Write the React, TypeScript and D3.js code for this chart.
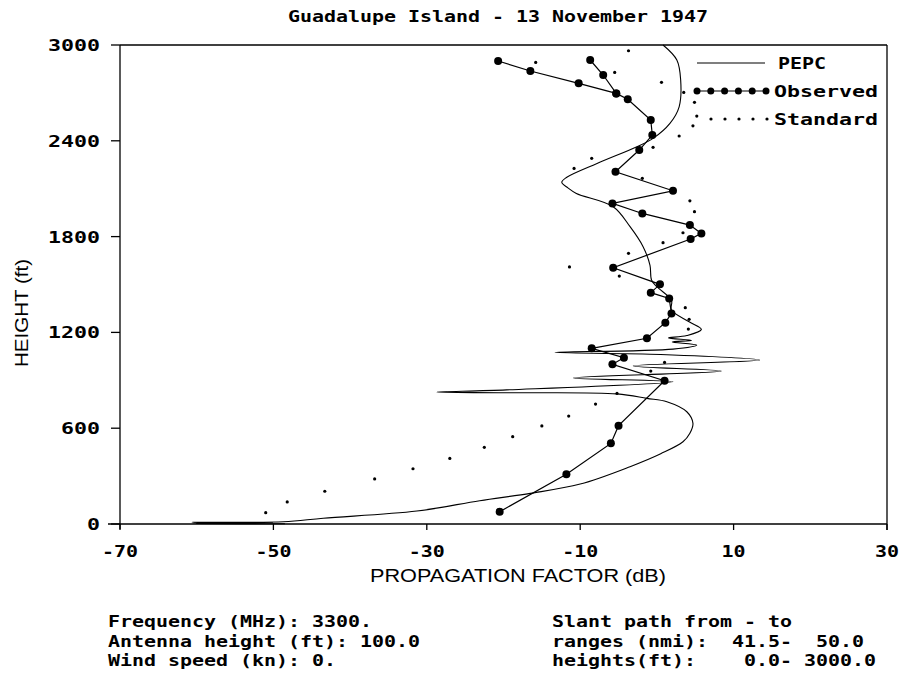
import React from "react";
import * as d3 from "d3";

const TITLE = "Guadalupe Island - 13 November 1947";
const X_TICKS = [-70, -50, -30, -10, 10, 30];
const Y_TICKS = [0, 600, 1200, 1800, 2400, 3000];

const pepcDb = [0.8, 2.6, 3.1, 2.9, 1.7, -0.5, -2.6, -7.8, -11.8, -12.4, -11.6, -10.5, -5.7, -3.5, -1.8, -0.9, -0.7, 0.0, 1.9, 1.9, 4.2, 5.8, 3.9, 1.5, 4.5, 2.0, 5.2, 2.1, -13.3, 0.5, 13.4, -3.1, 8.4, -10.9, 2.1, -19.6, -28.7, -20, -5.2, -1.3, 1.3, 3.9, 4.7, 4.3, 3.4, 0.5, -3.5, -10, -16.5, -23.1, -31.3, -43.5, -48.7, -60.6, -50, -60.5, -52, -60, -48.5];
const pepcHt = [3000, 2906, 2780, 2613, 2509, 2415, 2363, 2258, 2170, 2140, 2105, 2070, 1987, 1862, 1737, 1620, 1528, 1486, 1400, 1340, 1267, 1219, 1180, 1165, 1150, 1140, 1121, 1095, 1075, 1062, 1027, 990, 958, 915, 891, 840, 826, 822, 815, 787, 766, 703, 630, 568, 515, 440, 359, 250, 192, 146, 81, 36, 14, 11, 9, 7, 5, 3, 2];

const obsDb = [-20.5, -11.8, -6, -5, 1.0, -5.8, -4.3, -8.5, -1.3, 1.1, 1.9, 1.6, -0.8, 0.4, -5.7, 4.4, 5.8, 4.3, -1.9, -5.8, 2.1, -5.4, -2.3, -0.6, -0.8, -3.8, -5.3, -10.2, -16.5, -20.7];
const obsHt = [77, 311, 505, 616, 897, 1000, 1041, 1100, 1163, 1261, 1319, 1413, 1449, 1501, 1605, 1785, 1820, 1872, 1945, 2008, 2087, 2206, 2342, 2436, 2530, 2660, 2697, 2760, 2837, 2900];
const obsBranchDb = [-5.3, -7, -8.7];
const obsBranchHt = [2697, 2812, 2906];

const stdDb = [-51, -48.2, -43.3, -36.8, -31.8, -27, -22.5, -18.8, -15, -11.5, -8, -5.2, -0.8, 1.0, 4.1, 4.2, 3.7, -4.9, -11.4, -3.7, 0.8, 3.4, 4.9, 4.3, -1.9, -10.8, -8.5, -0.5, 2.9, 4.7, 5.2, 4.9, 3.5, 0.6, -5.5, -15.8, -3.7];
const stdHt = [71, 138, 205, 282, 346, 411, 480, 547, 614, 676, 751, 818, 958, 1012, 1221, 1282, 1355, 1553, 1610, 1695, 1762, 1824, 1956, 2024, 2165, 2227, 2290, 2359, 2430, 2494, 2555, 2641, 2703, 2766, 2828, 2891, 2964];

const LEGEND = ["PEPC", "Observed", "Standard"];
const INFO_LEFT = ["Frequency (MHz): 3300.", "Antenna height (ft): 100.0", "Wind speed (kn): 0."];
const INFO_RIGHT = ["Slant path from - to", "ranges (nmi):  41.5-  50.0", "heights(ft):    0.0- 3000.0"];

const MONO = "'DejaVu Sans Mono', monospace";
const SANS = "'Liberation Sans', Arial, sans-serif";
const PITCH = 12;

function MText(props: any) {
  const { text, pitch = PITCH, ...rest } = props;
  return (
    <text
      fontFamily={MONO}
      fontWeight="bold"
      fontSize={16}
      textLength={text.length * pitch}
      lengthAdjust="spacingAndGlyphs"
      fill="#000"
      xmlSpace="preserve"
      style={{ whiteSpace: "pre" }}
      {...rest}
    >
      {text}
    </text>
  );
}

export default function App() {
  const W = 904, H = 681;
  const x = d3.scaleLinear().domain([-70, 30]).range([120, 887]);
  const y = d3.scaleLinear().domain([0, 3000]).range([524, 45]);

  const pepc = pepcDb.map((d, i) => [d, pepcHt[i]] as [number, number]);
  const obs = obsDb.map((d, i) => [d, obsHt[i]] as [number, number]);
  const obsB = obsBranchDb.map((d, i) => [d, obsBranchHt[i]] as [number, number]);
  const std = stdDb.map((d, i) => [d, stdHt[i]] as [number, number]);

  const smooth = d3.line<[number, number]>().x(d => x(d[0])).y(d => y(d[1])).curve(d3.curveCatmullRom.alpha(0.5));
  const straight = d3.line<[number, number]>().x(d => x(d[0])).y(d => y(d[1]));

  const [x0, x1] = x.range();
  const [y0, y1] = y.range();

  return (
    <svg width={W} height={H} style={{ position: "absolute", left: 0, top: 0, background: "#fff" }}>
      <rect x={0} y={0} width={W} height={H} fill="#fff" />
      <MText text={TITLE} x={288} y={22} />

      {/* frame */}
      <g stroke="#000" strokeWidth={1.3} fill="none">
        <line x1={x0} y1={y1} x2={x1} y2={y1} />
        <line x1={x0} y1={y1} x2={x0} y2={y0 + 5} />
        <line x1={x1} y1={y1} x2={x1} y2={y0 + 6} />
        <line x1={x0 - 12} y1={y0} x2={x1} y2={y0} />
      </g>
      {/* y ticks */}
      {Y_TICKS.map(t => (
        <g key={"y" + t}>
          <line x1={x0 - 9} x2={x0} y1={y(t)} y2={y(t)} stroke="#000" strokeWidth={1.3} />
          <MText text={String(t)} pitch={13} x={100 - String(t).length * 13} y={y(t) + 6} />
        </g>
      ))}
      {/* x ticks */}
      {X_TICKS.map(t => (
        <g key={"x" + t}>
          <line x1={x(t)} x2={x(t)} y1={y0} y2={y0 + 6} stroke="#000" strokeWidth={1.3} />
          <MText text={String(t)} x={x(t) - (String(t).length * PITCH) / 2} y={557} />
        </g>
      ))}

      <text fontFamily={SANS} fontSize={18} textLength={108} lengthAdjust="spacingAndGlyphs"
        transform={`translate(28,313) rotate(-90)`} textAnchor="middle">HEIGHT (ft)</text>
      <text fontFamily={SANS} fontSize={18} textLength={296} lengthAdjust="spacingAndGlyphs"
        x={370} y={582}>PROPAGATION FACTOR (dB)</text>

      {/* PEPC */}
      <path d={smooth(pepc) || ""} fill="none" stroke="#000" strokeWidth={1.1} />
      {/* Observed */}
      <path d={straight(obs) || ""} fill="none" stroke="#000" strokeWidth={1.2} />
      <path d={straight(obsB) || ""} fill="none" stroke="#000" strokeWidth={1.2} />
      {[...obs, ...obsB].map((d, i) => (
        <circle key={"o" + i} cx={x(d[0])} cy={y(d[1])} r={4} fill="#000" />
      ))}
      {/* Standard */}
      {std.map((d, i) => (
        <circle key={"s" + i} cx={x(d[0])} cy={y(d[1])} r={1.6} fill="#000" />
      ))}

      {/* legend */}
      <line x1={697} x2={765} y1={63} y2={63} stroke="#000" strokeWidth={1.1} />
      <MText text={LEGEND[0]} x={778} y={69} />
      <line x1={697} x2={766} y1={91} y2={91} stroke="#000" strokeWidth={1.2} />
      {d3.range(6).map(i => (
        <circle key={"lo" + i} cx={697 + i * 13.8} cy={91} r={3.5} fill="#000" />
      ))}
      <MText text={LEGEND[1]} pitch={13} x={774} y={97} />
      {d3.range(5).map(i => (
        <circle key={"ls" + i} cx={711 + i * 14} cy={119} r={1.6} fill="#000" />
      ))}
      <MText text={LEGEND[2]} pitch={13} x={774} y={125} />

      {INFO_LEFT.map((t, i) => (
        <MText key={"il" + i} text={t} x={108} y={[627, 647, 666][i]} />
      ))}
      {INFO_RIGHT.map((t, i) => (
        <MText key={"ir" + i} text={t} x={552} y={[627, 647, 666][i]} />
      ))}
    </svg>
  );
}
